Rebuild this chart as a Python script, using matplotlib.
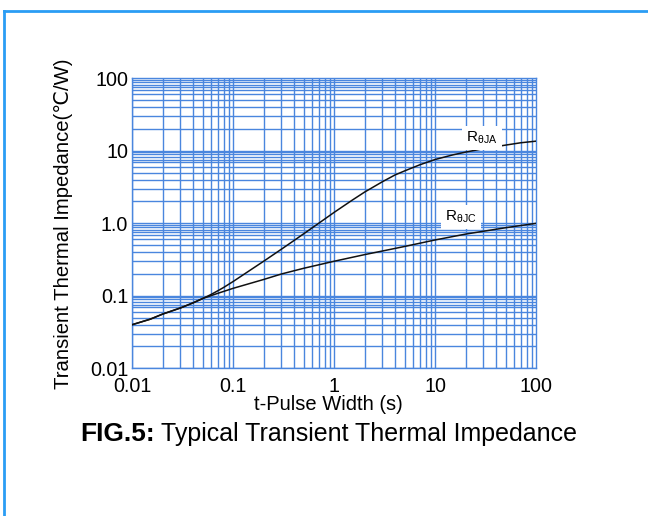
import matplotlib
matplotlib.use("Agg")
import matplotlib.pyplot as plt
from matplotlib.lines import Line2D
import numpy as np

plt.rcParams['font.family'] = ['Liberation Sans', 'DejaVu Sans']
plt.rcParams['mathtext.fontset'] = 'custom'
plt.rcParams['mathtext.rm'] = 'Liberation Sans'

# Data
t_ja = [0.01, 0.015, 0.02, 0.03, 0.04, 0.05, 0.06, 0.07, 0.08, 0.1, 0.15, 0.2, 0.3, 0.4, 0.5,
        0.6, 0.7, 0.8, 1, 1.5, 2, 3, 4, 5, 7, 10, 15, 20, 30, 50, 70, 100]
z_ja = [0.04, 0.0475, 0.056, 0.068, 0.08, 0.092, 0.104, 0.117, 0.13, 0.158, 0.23, 0.30, 0.44, 0.58, 0.72,
        0.86, 1.0, 1.14, 1.42, 2.08, 2.7, 3.75, 4.65, 5.3, 6.4, 7.6, 8.8, 9.6, 10.7, 12.0, 12.9, 13.6]
t_jc = [0.01, 0.015, 0.02, 0.03, 0.04, 0.05, 0.07, 0.1, 0.2, 0.3, 0.5, 1, 2, 3, 5, 10, 20, 50, 100]
z_jc = [0.04, 0.0475, 0.056, 0.068, 0.08, 0.092, 0.108, 0.127, 0.168, 0.2, 0.24, 0.3, 0.37, 0.415,
        0.48, 0.59, 0.71, 0.87, 1.0]
xticks = [0.01, 0.1, 1, 10, 100]
xticklabels = ['0.01', '0.1', '1', '10', '100']
yticks = [0.01, 0.1, 1, 10, 100]
yticklabels = ['0.01', '0.1', '1.0', '10', '100']

W, H = 648, 516
fig = plt.figure(figsize=(W / 100, H / 100), dpi=100)
ax = fig.add_axes([132.3 / W, 1 - 368.3 / H, 404 / W, 290 / H])
ax.set_xscale('log')
ax.set_yscale('log')
ax.set_xlim(0.01, 100)
ax.set_ylim(0.01, 100)

gridc = '#4a86de'
for d in [0.01, 0.1, 1, 10]:
    for m in range(1, 10):
        ax.axvline(d * m, color=gridc, lw=1.0, zorder=1)
hm = [1, 2, 3, 4, 5, 6, 7, 7.5, 8.2, 9, 9.6]
for d in [0.01, 0.1, 1, 10]:
    for m in hm:
        ax.axhline(d * m, color=gridc, lw=1.0, zorder=1)

ax.plot(t_ja, z_ja, color='#111111', lw=1.1, zorder=3)
ax.plot(t_jc, z_jc, color='#111111', lw=1.1, zorder=3)

for s in ax.spines.values():
    s.set_color(gridc)
    s.set_linewidth(1.0)

ax.set_xticks(xticks)
ax.set_xticklabels(xticklabels)
ax.set_yticks(yticks)
ax.set_yticklabels(yticklabels)
ax.minorticks_off()
ax.tick_params(length=0, labelsize=14.2, colors='black')
ax.tick_params(axis='x', pad=6)
ax.tick_params(axis='y', pad=3)

fig.text(64 / W, 1 - 223.3 / H, 'Transient Thermal Impedance(℃/W)', fontsize=14.6,
         rotation=90, ha='center', va='center')

box = dict(facecolor='white', edgecolor='none', pad=3)
ax.text(29, 15.0, r'R$\mathregular{_{θJA}}$', fontsize=11, ha='center', va='center', bbox=box, zorder=4)
ax.text(17.9, 1.22, r'R$\mathregular{_{θJC}}$', fontsize=11, ha='center', va='center', bbox=box, zorder=4)

fig.text(328 / W, 1 - 410 / H, 't-Pulse Width (s)', fontsize=14.5, ha='center', va='baseline')

fig.canvas.draw()
r = fig.canvas.get_renderer()
tb = fig.text(80 / W, 1 - 441 / H, 'FIG.5:', fontsize=19, fontweight='bold', ha='left', va='baseline')
bb = tb.get_window_extent(renderer=r)
fig.text((bb.x1 + 6) / W, 1 - 441 / H, 'Typical Transient Thermal Impedance', fontsize=18,
         ha='left', va='baseline')

bc = '#2a9df4'
fig.add_artist(Line2D([3.5 / W, 3.5 / W], [0, 1 - 11 / H], color=bc, lw=2, transform=fig.transFigure))
fig.add_artist(Line2D([3.5 / W, 1], [1 - 11 / H, 1 - 11 / H], color=bc, lw=2, transform=fig.transFigure))

fig.savefig('out.png', dpi=100)
